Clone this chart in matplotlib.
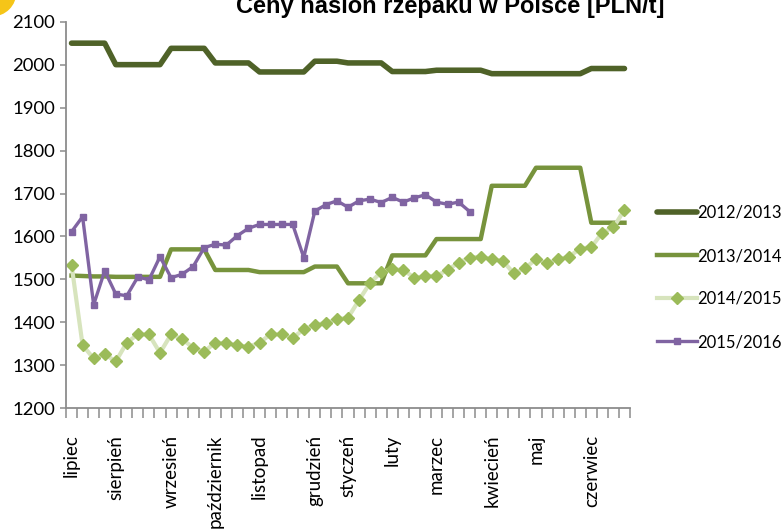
import matplotlib
matplotlib.use("Agg")
import matplotlib.pyplot as plt
from matplotlib.patches import Circle
import numpy as np

# ---- data ----
month_labels = ["lipiec", "sierpień", "wrzesień", "październik", "listopad", "grudzień",
                "styczeń", "luty", "marzec", "kwiecień", "maj", "czerwiec"]
month_week_index = [0, 4, 9, 13, 17, 22, 25, 29, 33, 38, 42, 47]
n_weeks = 51

s2012_2013 = [2050, 2050, 2050, 2050, 2000, 2000, 2000, 2000, 2000, 2038, 2038, 2038, 2038,
              2004, 2004, 2004, 2004, 1983, 1983, 1983, 1983, 1983, 2008, 2008, 2008,
              2004, 2004, 2004, 2004, 1984, 1984, 1984, 1984, 1987, 1987, 1987, 1987, 1987,
              1979, 1979, 1979, 1979, 1979, 1979, 1979, 1979, 1979, 1991, 1991, 1991, 1991]
s2013_2014 = [1509, 1508, 1507, 1507, 1506, 1506, 1506, 1506, 1506, 1570, 1570, 1570, 1570,
              1522, 1522, 1522, 1522, 1517, 1517, 1517, 1517, 1517, 1530, 1530, 1530,
              1491, 1491, 1491, 1491, 1556, 1556, 1556, 1556, 1594, 1594, 1594, 1594, 1594,
              1718, 1718, 1718, 1718, 1760, 1760, 1760, 1760, 1760, 1632, 1632, 1632, 1632]
s2014_2015 = [1534, 1347, 1316, 1326, 1309, 1353, 1372, 1372, 1329, 1372,
              1361, 1341, 1332, 1353, 1351, 1347, 1343, 1353, 1372, 1372,
              1364, 1384, 1394, 1399, 1407, 1411, 1452, 1492, 1517, 1524,
              1522, 1504, 1508, 1508, 1522, 1539, 1551, 1553, 1547, 1543,
              1514, 1526, 1547, 1538, 1547, 1553, 1572, 1575, 1609, 1621, 1662]
s2015_2016 = [1611, 1646, 1441, 1520, 1466, 1462, 1506, 1499, 1553, 1504,
              1512, 1530, 1574, 1582, 1580, 1602, 1619, 1628, 1628, 1628,
              1628, 1551, 1659, 1674, 1683, 1668, 1683, 1687, 1679, 1691,
              1680, 1690, 1697, 1680, 1675, 1680, 1658]
series_names = ["2012/2013", "2013/2014", "2014/2015", "2015/2016"]
title = "Ceny nasion rzepaku w Polsce [PLN/t]"

# ---- figure ----
W, H, DPI = 784, 531, 100
fig = plt.figure(figsize=(W / DPI, H / DPI), dpi=DPI)
ax = fig.add_axes([66 / W, 1 - 408.3 / H, (630 - 66) / W, (408.3 - 21.7) / H])

font = "Lato"
plt.rcParams['font.family'] = [font, 'DejaVu Sans']

x_all = np.arange(n_weeks)
ax.plot(x_all[:len(s2012_2013)], s2012_2013, color="#4F6228", lw=4.0,
        solid_joinstyle="round", solid_capstyle="round", label=series_names[0])
ax.plot(x_all[:len(s2013_2014)], s2013_2014, color="#77933C", lw=3.2,
        solid_joinstyle="round", label=series_names[1])
ax.plot(x_all[:len(s2014_2015)], s2014_2015, color="#D7E4BD", lw=3.0,
        marker="D", ms=5.8, mfc="#9BBB59", mec="#9BBB59", label=series_names[2])
ax.plot(x_all[:len(s2015_2016)], s2015_2016, color="#8064A2", lw=2.4,
        marker="s", ms=4.6, mfc="#8064A2", mec="#8064A2", label=series_names[3])

ax.set_xlim(-0.5, n_weeks - 0.5)
ax.set_ylim(1200, 2100)
ax.set_yticks(np.arange(1200, 2101, 100))

ax.set_xticks(month_week_index)
ax.set_xticklabels(month_labels, rotation=90, fontsize=13.5, family=font)
ax.set_xticks(np.arange(-0.5, n_weeks, 1.0), minor=True)
ax.tick_params(axis="x", which="major", length=0, pad=19)
ax.tick_params(axis="x", which="minor", length=7, width=1.1, color="#8C8C8C")
ax.tick_params(axis="y", length=4.3, width=1.1, color="#8C8C8C", pad=3.5, labelsize=13.3)
for lab in ax.get_yticklabels():
    lab.set_family(font)

for sp in ["top", "right"]:
    ax.spines[sp].set_visible(False)
for sp in ["left", "bottom"]:
    ax.spines[sp].set_color("#8C8C8C")
    ax.spines[sp].set_linewidth(1.3)

leg = fig.legend(loc="upper left", bbox_to_anchor=(657 / W, 1 - 205 / H),
                 frameon=False, borderpad=0, borderaxespad=0, handlelength=2.4,
                 handletextpad=0.0, labelspacing=1.62, prop={"family": font, "size": 12})

fig.text(450 / W, 1 - 13.5 / H, title, ha="center", va="baseline",
         fontsize=17, fontweight="bold", family="Liberation Sans")

fig.patches.append(Circle((-8, H + 8), 24.5, transform=None, facecolor="#F5C518",
                          edgecolor="none", zorder=5))

fig.savefig("out.png", dpi=DPI)
